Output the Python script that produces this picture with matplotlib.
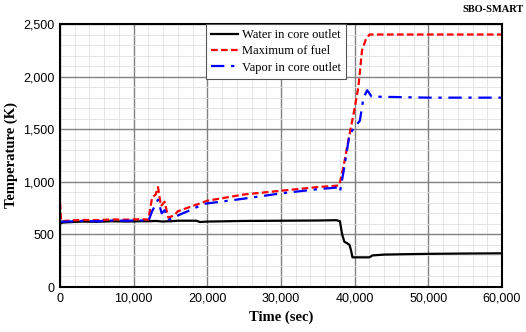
import matplotlib
matplotlib.use("Agg")
import matplotlib.pyplot as plt
from matplotlib.ticker import MultipleLocator, FuncFormatter

# Water in core outlet
water_t = [0, 300, 1000, 3000, 5000, 7000, 9000, 11000, 12000, 13000, 14000, 14500,
           15000, 16000, 18500, 19000, 20000, 25000, 30000, 35000, 37500, 38000,
           38300, 38600, 39000, 39300, 39500, 39700, 42000, 42400, 44000, 47000,
           50000, 55000, 60000]
water_T = [600, 612, 615, 622, 620, 625, 622, 625, 625, 628, 622, 625,
           625, 630, 630, 618, 622, 628, 630, 632, 635, 625,
           500, 430, 415, 400, 350, 282, 282, 300, 308, 312,
           315, 318, 320]

# Maximum of fuel
fuel_t = [0, 150, 1000, 3000, 5000, 7000, 9000, 11000, 12000, 12500, 13000, 13300,
          13700, 14200, 14700, 15500, 16000, 18000, 20000, 25000, 30000, 35000,
          37900, 38500, 39300, 40000, 40500, 41000, 41500, 42000, 60000]
fuel_T = [800, 625, 630, 638, 635, 642, 640, 645, 640, 850, 880, 950,
          770, 810, 660, 680, 720, 770, 820, 880, 915, 950,
          965, 1150, 1450, 1700, 1900, 2250, 2350, 2400, 2400]

# Vapor in core outlet
vapor_t = [0, 1000, 3000, 5000, 7000, 9000, 11000, 12000, 12500, 13300, 13800,
           14200, 14800, 16000, 18000, 19500, 25000, 30000, 35000, 37600, 38000,
           38500, 39300, 40000, 40700, 41200, 41700, 42300, 50000, 60000]
vapor_T = [620, 622, 628, 625, 632, 630, 632, 625, 720, 830, 700,
           730, 640, 680, 740, 790, 840, 890, 930, 945, 905,
           1100, 1450, 1520, 1580, 1800, 1870, 1810, 1800, 1800]

fig = plt.figure(figsize=(5.26, 3.32), dpi=100)
ax = fig.add_axes([60 / 526, 1 - 287 / 332, 442 / 526, 263 / 332])

ax.plot(water_t, water_T, color='black', lw=1.6, label='Water in core outlet')
ax.plot(fuel_t, fuel_T, color='red', lw=1.6, ls=(0, (3, 1.5)), label='Maximum of fuel')
ax.plot(vapor_t, vapor_T, color='blue', lw=1.6, ls=(0, (6, 3, 1.5, 3)), label='Vapor in core outlet')

ax.set_xlim(0, 60000)
ax.set_ylim(0, 2500)
ax.xaxis.set_major_locator(MultipleLocator(10000))
ax.xaxis.set_minor_locator(MultipleLocator(2000))
ax.yaxis.set_major_locator(MultipleLocator(500))
ax.yaxis.set_minor_locator(MultipleLocator(100))
fmt = FuncFormatter(lambda v, p: f'{int(v):,}')
ax.xaxis.set_major_formatter(fmt)
ax.yaxis.set_major_formatter(fmt)
ax.grid(which='major', color='#808080', lw=1.0)
ax.grid(which='minor', color='#e0e0e0', lw=0.6)
ax.set_axisbelow(True)
ax.tick_params(which='both', length=0, labelsize=9, pad=4)
for lab in ax.get_xticklabels() + ax.get_yticklabels():
    lab.set_family('Liberation Sans')
for s in ax.spines.values():
    s.set_linewidth(1.5)

ax.set_xlabel('Time (sec)', family='Liberation Serif', fontweight='bold', fontsize=10.5)
ax.set_ylabel('Temperature (K)', family='Liberation Serif', fontweight='bold', fontsize=10.5)

leg = ax.legend(loc='upper center', bbox_to_anchor=(0.488, 1.0), borderaxespad=0,
                fancybox=False, framealpha=1, edgecolor='#555555', handlelength=2.2,
                handletextpad=0.3, prop={'family': 'Liberation Serif', 'size': 9},
                borderpad=0.4, labelspacing=0.35)
leg.get_frame().set_linewidth(0.8)

fig.text(0.995, 0.985, 'SBO-SMART', ha='right', va='top', family='Liberation Serif',
         fontweight='bold', fontsize=7.5)

fig.savefig('out.png', dpi=100)
